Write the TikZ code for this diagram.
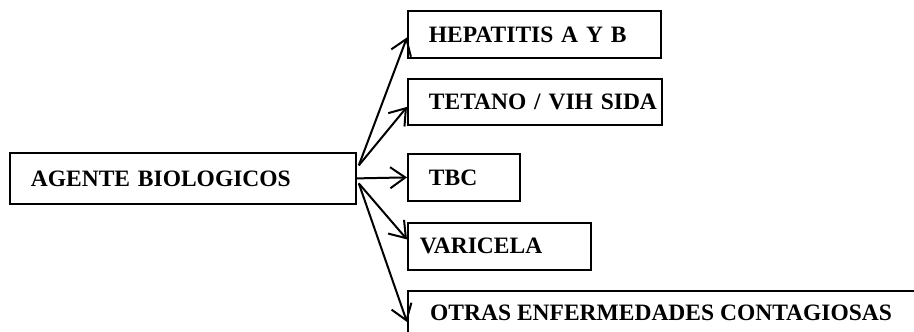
\documentclass[tikz,border=0pt]{standalone}
\usepackage{fontspec}
\setmainfont{Liberation Serif}
\usetikzlibrary{arrows.meta}
\begin{document}
\begin{tikzpicture}[x=1pt,y=1pt,
  box/.style={draw,line width=1.8pt,anchor=north west,inner xsep=0pt,inner ysep=0pt,
    font=\fontsize{23.5}{28}\selectfont\bfseries,align=left},
  conn/.style={line width=2pt,-{Straight Barb[length=15pt,width=21pt,line width=2pt]}}]
\clip (0,0) rectangle (914,332);
\node[box,minimum width=346pt,minimum height=51pt,text width=346pt] (agent) at (9,180) {\hspace*{21pt}AGENTE BIOLOGICOS};
\node[box,minimum width=253pt,minimum height=47pt,text width=253pt] (hep) at (407,322) {\hspace*{21pt}HEPATITIS A Y B};
\node[box,minimum width=254pt,minimum height=46pt,text width=254pt] (tet) at (407,254) {\hspace*{21pt}TETANO / VIH SIDA};
\node[box,minimum width=112pt,minimum height=47pt,text width=112pt] (tbc) at (407,179) {\hspace*{21pt}TBC};
\node[box,minimum width=183pt,minimum height=47pt,text width=183pt] (var) at (407,110) {\hspace*{12pt}VARICELA};
\node[box,minimum width=600pt,minimum height=64pt,text width=600pt] (otras) at (407,42) {};
\node[font=\fontsize{23.5}{28}\selectfont\bfseries,anchor=west,inner xsep=0pt] (otrast) at (430,19) {OTRAS ENFERMEDADES CONTAGIOSAS};
\coordinate (s1) at ([xshift=2pt,yshift=13pt]agent.east);
\coordinate (s2) at ([xshift=2pt,yshift=-5pt]agent.east);
\draw[conn] (s1) -- ([yshift=-3pt]hep.west);
\draw[conn] (s1) -- ([yshift=-5pt]tet.west);
\draw[conn] (agent.east) -- (tbc.west);
\draw[conn] (s2) -- ([yshift=7pt]var.west);
\draw[conn] (s2) -- ([yshift=-32pt]otras.north west);
\end{tikzpicture}
\end{document}
